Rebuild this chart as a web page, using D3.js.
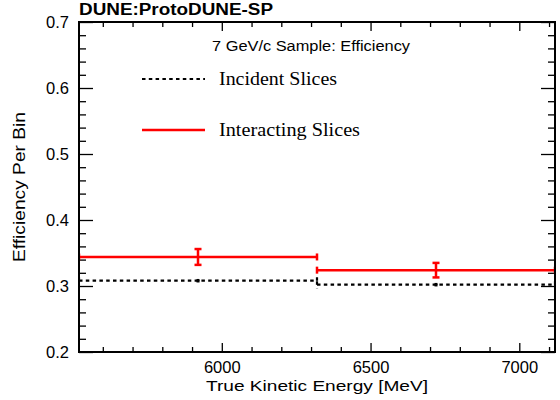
<!DOCTYPE html>
<html>
<head>
<meta charset="utf-8">
<script src="https://cdn.jsdelivr.net/npm/d3@7"></script>
<style>
  body { margin: 0; background: #fff; }
  svg { display: block; font-family: "Liberation Sans", Arial, sans-serif; }
</style>
</head>
<body>
<svg id="chart" width="560" height="400"></svg>
<script>
// bin edges in MeV, two slices
var binEdges = [5520, 6320, 7120];
var interacting = [0.344, 0.324];
var interactingErr = [0.012, 0.011];
var incident = [0.308, 0.302];
var incidentErr = [0.001, 0.001];

var xMajor = [6000, 6500, 7000];
var yMajor = [0.2, 0.3, 0.4, 0.5, 0.6, 0.7];

var legendLabels = ["Incident Slices", "Interacting Slices"];

var svg = d3.select("#chart");
var margin = { top: 22, right: 5, bottom: 48, left: 79 };
var width = 560 - margin.left - margin.right;
var height = 400 - margin.top - margin.bottom;

var x = d3.scaleLinear().domain([binEdges[0], binEdges[binEdges.length - 1]]).range([0, width]);
var y = d3.scaleLinear().domain([0.2, 0.7]).range([height, 0]);

var g = svg.append("g").attr("transform", "translate(" + margin.left + "," + margin.top + ")");

var xMinor = d3.range(5600, 7120, 100).filter(function(d) { return xMajor.indexOf(d) < 0; });
var yMinor = d3.range(0.22, 0.7, 0.02).map(function(d) { return +d.toFixed(2); })
  .filter(function(d) { return Math.round(d * 100) % 10 !== 0; });

function styleAxis(sel) {
  sel.select(".domain").remove();
  sel.selectAll("line").attr("stroke", "#000").attr("stroke-width", 1.3);
  sel.selectAll("text").attr("fill", "#000").style("font-size", "16.5px")
    .style("font-family", "'Liberation Sans', Arial, sans-serif");
}

// bottom axis
g.append("g").attr("transform", "translate(0," + height + ")")
  .call(d3.axisBottom(x).tickValues(xMajor).tickSize(-9).tickPadding(9).tickFormat(d3.format("d")))
  .call(styleAxis);
g.append("g").attr("transform", "translate(0," + height + ")")
  .call(d3.axisBottom(x).tickValues(xMinor).tickSize(-5).tickFormat(""))
  .call(styleAxis);
// top axis
g.append("g")
  .call(d3.axisTop(x).tickValues(xMajor).tickSize(-9).tickFormat(""))
  .call(styleAxis);
g.append("g")
  .call(d3.axisTop(x).tickValues(xMinor).tickSize(-5).tickFormat(""))
  .call(styleAxis);
// left axis
g.append("g")
  .call(d3.axisLeft(y).tickValues(yMajor).tickSize(-14).tickPadding(10).tickFormat(d3.format(".1f")))
  .call(styleAxis);
g.append("g")
  .call(d3.axisLeft(y).tickValues(yMinor).tickSize(-7).tickFormat(""))
  .call(styleAxis);
// right axis
g.append("g").attr("transform", "translate(" + width + ",0)")
  .call(d3.axisRight(y).tickValues(yMajor).tickSize(-14).tickFormat(""))
  .call(styleAxis);
g.append("g").attr("transform", "translate(" + width + ",0)")
  .call(d3.axisRight(y).tickValues(yMinor).tickSize(-7).tickFormat(""))
  .call(styleAxis);

// histograms with error bars
svg.append("clipPath").attr("id", "plotClip")
  .append("rect").attr("x", 0).attr("y", 0).attr("width", width).attr("height", height);
var plot = g.append("g").attr("clip-path", "url(#plotClip)");

function drawSeries(vals, errs, color, lw, dash, cap) {
  var data = vals.map(function(v, i) {
    return { lo: binEdges[i], hi: binEdges[i + 1], v: v, e: errs[i] };
  });
  var s = plot.append("g").attr("stroke", color).attr("stroke-width", lw).attr("fill", "none");
  data.forEach(function(d) {
    var cx = x((d.lo + d.hi) / 2);
    s.append("line").attr("x1", x(d.lo)).attr("x2", x(d.hi))
      .attr("y1", y(d.v)).attr("y2", y(d.v)).attr("stroke-dasharray", dash);
    // x error end caps
    [d.lo, d.hi].forEach(function(ex) {
      s.append("line").attr("x1", x(ex)).attr("x2", x(ex))
        .attr("y1", y(d.v) - 3.5).attr("y2", y(d.v) + 3.5).attr("stroke-dasharray", dash);
    });
    // y error bar
    s.append("line").attr("x1", cx).attr("x2", cx)
      .attr("y1", y(d.v + d.e)).attr("y2", y(d.v - d.e));
    [d.v + d.e, d.v - d.e].forEach(function(ev) {
      s.append("line").attr("x1", cx - cap).attr("x2", cx + cap)
        .attr("y1", y(ev)).attr("y2", y(ev));
    });
  });
}

drawSeries(incident, incidentErr, "#000", 2.2, "3.5,3.3", 1.5);
drawSeries(interacting, interactingErr, "#ff0000", 2.5, null, 3.5);

// frame
g.append("rect").attr("width", width).attr("height", height)
  .attr("fill", "none").attr("stroke", "#000").attr("stroke-width", 2);

// titles
svg.append("text").attr("x", 79).attr("y", 15)
  .style("font-size", "16px").style("font-weight", "bold")
  .attr("textLength", 194).attr("lengthAdjust", "spacingAndGlyphs")
  .text("DUNE:ProtoDUNE-SP");

svg.append("text").attr("x", margin.left + width / 2 - 111).attr("y", 391)
  .style("font-size", "15.5px")
  .attr("textLength", 222).attr("lengthAdjust", "spacingAndGlyphs")
  .text("True Kinetic Energy [MeV]");

svg.append("text").attr("transform", "translate(25," + (margin.top + height / 2 + 75) + ") rotate(-90)")
  .style("font-size", "16px")
  .attr("textLength", 150).attr("lengthAdjust", "spacingAndGlyphs")
  .text("Efficiency Per Bin");

// legend
svg.append("text").attr("x", 212).attr("y", 51)
  .style("font-size", "14px")
  .attr("textLength", 198).attr("lengthAdjust", "spacingAndGlyphs")
  .text("7 GeV/c Sample: Efficiency");

var legend = svg.append("g");
var legendY = [79, 130];
var legendLen = [118, 141];
var legendStyle = [
  { color: "#000", lw: 2.2, dash: "3.5,3.3" },
  { color: "#ff0000", lw: 2.5, dash: null }
];
legendLabels.forEach(function(lab, i) {
  legend.append("line").attr("x1", 142).attr("x2", 205)
    .attr("y1", legendY[i]).attr("y2", legendY[i])
    .attr("stroke", legendStyle[i].color).attr("stroke-width", legendStyle[i].lw)
    .attr("stroke-dasharray", legendStyle[i].dash);
  legend.append("text").attr("x", 219).attr("y", legendY[i] + 6)
    .style("font-family", "'Liberation Serif', 'Times New Roman', serif")
    .style("font-size", "19px")
    .attr("textLength", legendLen[i]).attr("lengthAdjust", "spacingAndGlyphs")
    .text(lab);
});
</script>
</body>
</html>
